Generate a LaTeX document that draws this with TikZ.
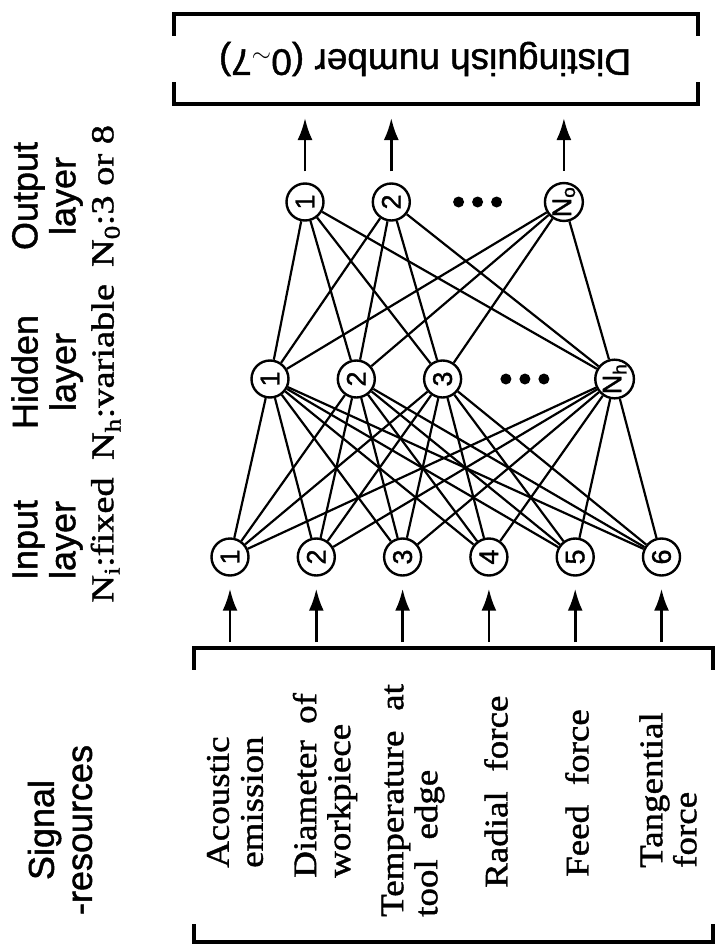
\documentclass[tikz,border=0pt]{standalone}
\usepackage{fontspec}
\setmainfont{Liberation Serif}
\setsansfont[FakeBold=1.2]{Liberation Sans}
\newfontfamily\sigfont[FakeStretch=1.12,FakeBold=1.2]{Liberation Serif}
\newfontfamily\headfont[FakeStretch=1.2,FakeBold=1.2]{Liberation Serif}
\usepackage{tikz}
\usetikzlibrary{arrows.meta,positioning}
\newcommand{\rn}[1]{\rotatebox{90}{#1}}

\begin{document}
\begin{tikzpicture}[x=1pt,y=-1pt,node distance=86.3pt,>={Latex[length=22pt,width=15pt]}]
    \tikzstyle{neuron}=[circle,draw,line width=2.4pt,minimum size=37pt,inner sep=0pt,font=\sffamily\fontsize{27}{27}\selectfont]  % 神经元,圆圈
    \tikzstyle{link}=[line width=2.2pt]  % 层与层之间的连线
    \tikzstyle{feed}=[->,line width=2.6pt]  % 输入和输出的箭头
    \tikzstyle{frame}=[line width=4pt]  % 方框的边
    \tikzstyle{head}=[rotate=90,align=center,font=\sffamily\fontsize{36}{38}\selectfont]  % 左边各层的标题
    \tikzstyle{signal}=[rotate=90,anchor=west,align=left,inner sep=0pt,font=\sigfont\fontsize{33}{34}\selectfont]  % 信号来源
    \tikzstyle{point}=[coordinate]  % 用于连接箭头
    \useasboundingbox (0,0) rectangle (717,947);

    % 输入层
    \node[neuron](i1) at (230,557){\rn{1}};
    \node[neuron,right of=i1](i2){\rn{2}};
    \node[neuron,right of=i2](i3){\rn{3}};
    \node[neuron,right of=i3](i4){\rn{4}};
    \node[neuron,right of=i4](i5){\rn{5}};
    \node[neuron,right of=i5](i6){\rn{6}};
    % 隐含层
    \node[neuron](h1) at (270,379){\rn{1}};
    \node[neuron,right of=h1](h2){\rn{2}};
    \node[neuron,right of=h2](h3){\rn{3}};
    \node[point,right of=h3,xshift=-4pt](hdots){};
    \node[neuron,right of=h3,node distance=172pt](hN){\rn{N\textsubscript{h}}};
    % 输出层
    \node[neuron](o1) at (305,202){\rn{1}};
    \node[neuron,right of=o1](o2){\rn{2}};
    \node[point,right of=o2](odots){};
    \node[neuron,right of=odots](oN){\rn{N\textsubscript{o}}};
    \foreach \p in {hdots,odots}
        \foreach \d in {-19pt,0pt,19pt}
            \fill ([xshift=\d]\p) circle (5.5);

    % 连线
    \foreach \a in {i1,i2,i3,i4,i5,i6}
        \foreach \b in {h1,h2,h3,hN}
            \draw[link](\a)--(\b);
    \foreach \a in {h1,h2,h3,hN}
        \foreach \b in {o1,o2,oN}
            \draw[link](\a)--(\b);

    % 方框
    \node[minimum width=524pt,minimum height=90pt,inner sep=0pt](obox) at (436,59){};
    \draw[frame]([yshift=-22pt]obox.north west)--(obox.north west)--(obox.north east)--([yshift=-22pt]obox.north east);
    \draw[frame]([yshift=22pt]obox.south west)--(obox.south west)--(obox.south east)--([yshift=22pt]obox.south east);
    \node[rotate=180,font=\sffamily\fontsize{37}{37}\selectfont](otext) at ([xshift=-11pt]obox.center){Distinguish number (0$\sim$7)};
    \node[minimum width=519pt,minimum height=294pt,inner sep=0pt](sbox) at (453.5,795){};
    \draw[frame]([yshift=-22pt]sbox.north west)--(sbox.north west)--(sbox.north east)--([yshift=-22pt]sbox.north east);
    \draw[frame]([yshift=18pt]sbox.south west)--(sbox.south west)--(sbox.south east)--([yshift=18pt]sbox.south east);

    % 箭头
    \foreach \k in {1,...,6}{
        \node[point,below of=i\k,node distance=85pt](s\k){};
        \draw[feed,shorten >=12pt](s\k)--(i\k);
    }
    \foreach \k in {o1,o2,oN}{
        \node[point,above of=\k,node distance=84pt](t\k){};
        \draw[feed,shorten <=11pt](\k)--(t\k);
    }

    % 信号来源
    \node[signal](a1) at (235,868){Acoustic\\emission};
    \node[signal](a2) at (325,878){Diameter\hspace{0.5em}of\\workpiece};
    \node[signal](a3) at (413,917){Temperature\hspace{0.6em}at\\tool\hspace{0.6em}edge};
    \node[signal](a4) at (496,888){Radial\hspace{0.6em}force};
    \node[signal](a5) at (577,877){Feed\hspace{0.6em}force};
    \node[signal](a6) at (668,868){Tangential\\force};

    % 标题
    \node[head](hd1) at (66,196){Output\\layer\\{\headfont\fontsize{32}{38}\selectfont N\textsubscript{0}:3 or 8}};
    \node[head](hd2) at (66,372){Hidden\\layer\\{\headfont\fontsize{32}{38}\selectfont N\textsubscript{h}:variable}};
    \node[head](hd3) at (66,540){Input\\layer\\{\headfont\fontsize{32}{38}\selectfont N\textsubscript{i}:fixed}};
    \node[head](hd4) at (60,830){Signal\\-resources};
\end{tikzpicture}
\end{document}
